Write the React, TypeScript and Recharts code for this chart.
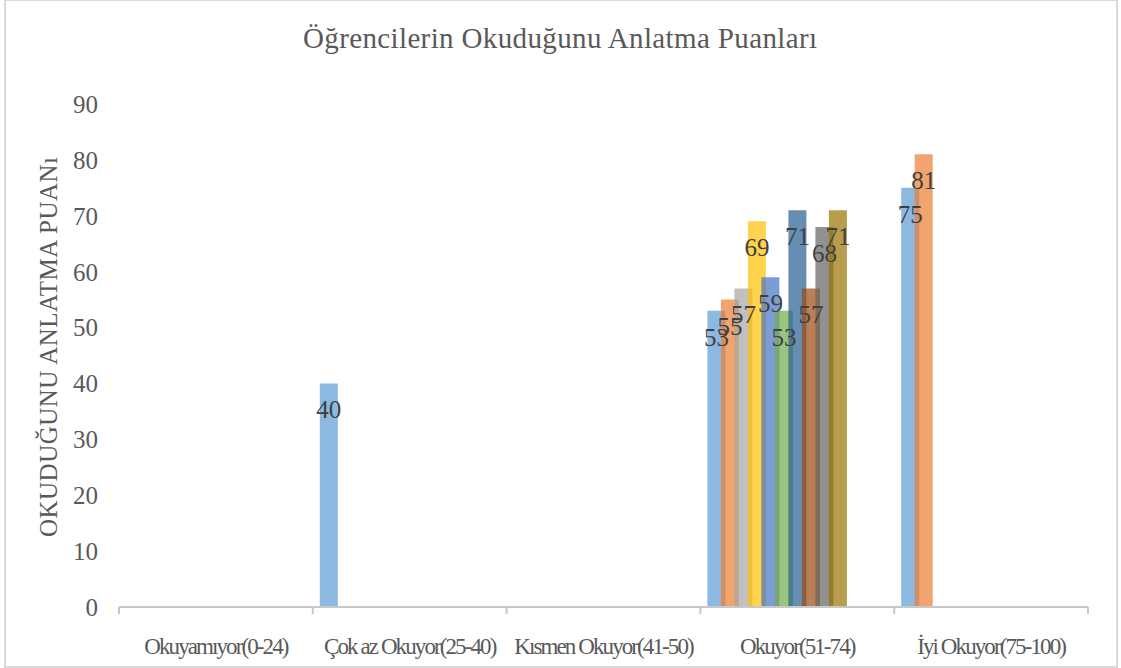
import React from "react";
import { BarChart, Bar, XAxis, YAxis, LabelList } from "recharts";

const categories = [
  "Okuyamıyor(0-24)",
  "Çok az Okuyor(25-40)",
  "Kısmen Okuyor(41-50)",
  "Okuyor(51-74)",
  "İyi Okuyor(75-100)",
];

// one series per student slot (Excel-style clustered columns)
const s1 = [null, 40, null, 53, 75];
const s2 = [null, null, null, 55, 81];
const s3 = [null, null, null, 57, null];
const s4 = [null, null, null, 69, null];
const s5 = [null, null, null, 59, null];
const s6 = [null, null, null, 53, null];
const s7 = [null, null, null, 71, null];
const s8 = [null, null, null, 57, null];
const s9 = [null, null, null, 68, null];
const s10 = [null, null, null, 71, null];
const s11 = [null, null, null, null, null];
const s12 = [null, null, null, null, null];
const s13 = [null, null, null, null, null];

const seriesValues = [s1, s2, s3, s4, s5, s6, s7, s8, s9, s10, s11, s12, s13];
const seriesColors = [
  "#5B9BD5", "#ED7D31", "#A5A5A5", "#FFC000", "#4472C4", "#70AD47",
  "#255E91", "#9E480E", "#636363", "#997300", "#264478", "#43682B", "#698ED0",
];
const yTicks = [0, 10, 20, 30, 40, 50, 60, 70, 80, 90];

const title = "Öğrencilerin Okuduğunu Anlatma Puanları";
const yLabel = "OKUDUĞUNU ANLATMA PUANı";

const data = categories.map((name, i) => {
  const row: Record<string, any> = { name };
  seriesValues.forEach((arr, k) => {
    row["s" + (k + 1)] = arr[i];
  });
  return row;
});

const FONT = '"Liberation Serif", "Times New Roman", serif';

const XTick = (props: any) => {
  const { x, y, payload, index, visibleTicksCount } = props;
  const half = payload && payload.offset != null ? payload.offset : 969 / 5 / 2;
  const last = index === (visibleTicksCount ?? 5) - 1;
  return (
    <g>
      <line x1={x - half} x2={x - half} y1={y} y2={y + 7} stroke="#c8c8c8" strokeWidth={2} />
      {last && (
        <line x1={x + half} x2={x + half} y1={y} y2={y + 7} stroke="#c8c8c8" strokeWidth={2} />
      )}
      <text
        x={x}
        y={y + 47}
        textAnchor="middle"
        fill="#595959"
        fontSize={23}
        fontFamily={FONT}
        letterSpacing={-1.9}
      >
        {payload.value}
      </text>
    </g>
  );
};

const BarLabel = (props: any) => {
  const { x, y, width, value } = props;
  if (value == null) return null;
  return (
    <text
      x={x + width / 2}
      y={y + 35}
      textAnchor="middle"
      fill="#404040"
      fontSize={25}
      fontFamily={FONT}
    >
      {value}
    </text>
  );
};

export default function App() {
  return (
    <div style={{ position: "absolute", left: 0, top: 0, width: 1121, height: 668, background: "#fff", fontFamily: FONT }}>
      <div
        style={{
          position: "absolute",
          left: 4,
          top: -1,
          width: 1114,
          height: 669,
          border: "2px solid #d9d9d9",
          boxSizing: "border-box",
        }}
      />
      <BarChart
        width={1121}
        height={668}
        data={data}
        margin={{ top: 104, right: 33, bottom: 21, left: 59 }}
        barSize={18}
        barGap={-4.5}
      >
        <XAxis
          dataKey="name"
          height={40}
          axisLine={{ stroke: "#c8c8c8", strokeWidth: 2 }}
          tickLine={false}
          tickSize={0}
          tickMargin={0}
          tick={<XTick />}
          interval={0}
        />
        <YAxis
          width={60}
          domain={[0, 90]}
          ticks={yTicks}
          axisLine={false}
          tickLine={false}
          tickMargin={15}
          tick={{ fill: "#595959", fontSize: 25, fontFamily: FONT }}
        />
        {seriesValues.map((_, k) => (
          <Bar
            key={k}
            dataKey={"s" + (k + 1)}
            fill={seriesColors[k]}
            fillOpacity={0.7}
            isAnimationActive={false}
          >
            <LabelList dataKey={"s" + (k + 1)} content={<BarLabel />} />
          </Bar>
        ))}
      </BarChart>
      <svg
        width={1121}
        height={668}
        style={{ position: "absolute", left: 0, top: 0, pointerEvents: "none" }}
      >
        <text
          x={560}
          y={48}
          textAnchor="middle"
          fill="#595959"
          fontSize={29}
          fontFamily={FONT}
          textLength={514}
          lengthAdjust="spacing"
        >
          {title}
        </text>
        <text
          x={0}
          y={0}
          transform="translate(57 347) rotate(-90)"
          textAnchor="middle"
          fill="#595959"
          fontSize={25}
          fontFamily={FONT}
          textLength={380}
          lengthAdjust="spacing"
        >
          {yLabel}
        </text>
      </svg>
    </div>
  );
}
